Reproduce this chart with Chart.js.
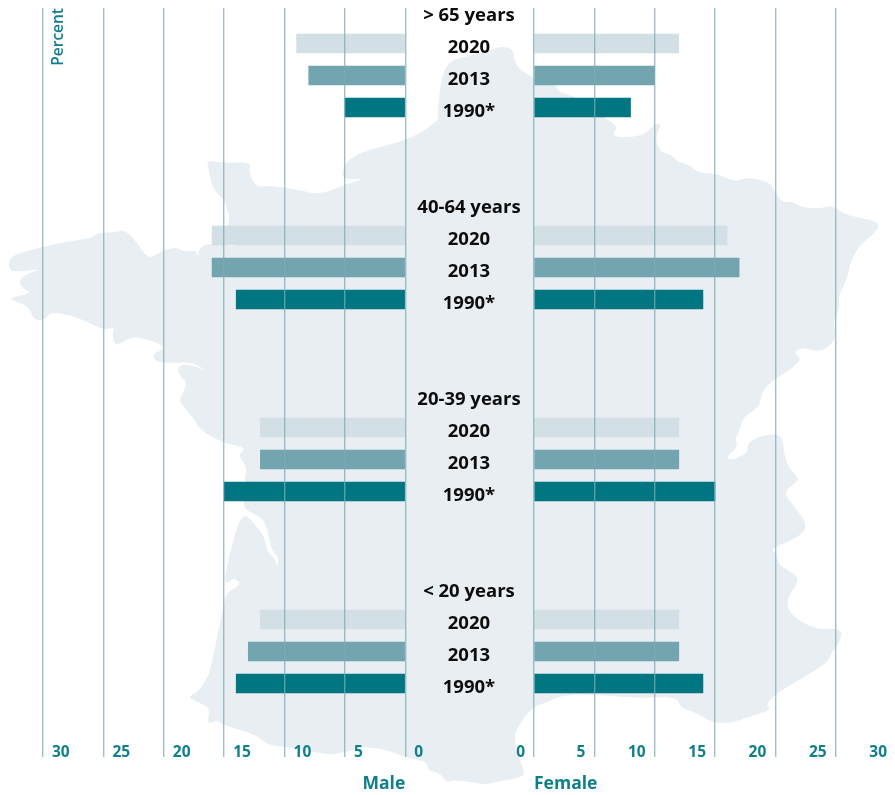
<!DOCTYPE html>
<html><head><meta charset="utf-8">
<script src="https://cdn.jsdelivr.net/npm/chart.js@4"></script>
<style>
html,body{margin:0;padding:0;background:#fff;overflow:hidden}
#wrap{position:relative;width:895px;height:795px;overflow:hidden}
canvas{position:absolute;top:0}
#left{left:0}#right{left:500px}
</style></head><body>
<div id="wrap"><canvas id="left" width="895" height="795"></canvas><canvas id="right" width="400" height="795"></canvas></div>
<script>
const ageGroups = ['> 65 years','40-64 years','20-39 years','< 20 years'];
const years = ['2020','2013','1990*'];
const tickValues = [0,5,10,15,20,25,30];
const male2020 = [9,16,12,12];
const male2013 = [8,16,12,13];
const male1990 = [5,14,15,14];
const female2020 = [12,16,12,12];
const female2013 = [10,17,12,12];
const female1990 = [8,14,15,14];
const yearColors = ['#d2dfe4','#73a5b0','#007682'];
const teal = '#0f7f8b';
const gridColor = 'rgba(125,170,180,0.75)';
const fontFamily = '"Open Sans"';
const mapOutline = [
[437,117],[443,62],[473,55],[512,43],[515,65],[525,73],[534,78],[557,85],[558,92],[578,97],[605,118],[613,123],[617,128],[612,135],[622,138],[645,135],[653,125],[662,123],[655,137],[660,152],[672,155],[678,162],[690,165],[698,173],[715,173],[735,182],[747,177],[770,182],[775,192],[783,203],[792,201],[803,208],[823,208],[832,205],[845,215],[882,222],[873,235],[858,247],[850,263],[848,277],[838,297],[840,307],[833,323],[837,338],[825,350],[813,351],[802,347],[793,353],[802,358],[793,368],[778,377],[762,390],[760,407],[743,417],[738,435],[735,438],[738,447],[728,455],[728,460],[738,458],[748,452],[747,443],[762,435],[782,434],[784,452],[788,467],[798,477],[797,482],[783,492],[793,505],[807,523],[803,533],[792,540],[770,549],[777,553],[778,565],[797,575],[798,583],[787,598],[788,613],[815,630],[840,628],[842,638],[832,652],[827,663],[803,678],[778,692],[765,705],[772,710],[748,717],[732,723],[712,723],[695,712],[680,708],[678,698],[655,697],[642,698],[627,697],[568,693],[545,703],[533,707],[520,723],[513,738],[520,760],[525,773],[520,778],[493,782],[487,785],[473,782],[453,780],[447,783],[440,773],[427,770],[428,763],[420,760],[407,758],[393,752],[377,748],[363,747],[353,750],[333,755],[313,752],[287,747],[267,745],[257,735],[223,725],[217,720],[207,725],[210,708],[200,703],[187,697],[197,693],[208,678],[213,658],[223,608],[227,592],[238,587],[240,582],[233,578],[228,583],[224,582],[230,552],[242,510],[257,527],[265,538],[267,552],[275,558],[277,567],[279,557],[271,550],[268,532],[263,518],[245,510],[243,501],[245,478],[247,467],[238,455],[245,450],[240,446],[223,443],[200,430],[193,417],[180,403],[180,398],[188,383],[177,373],[180,364],[195,366],[207,371],[192,362],[173,363],[155,362],[153,353],[163,350],[163,345],[143,338],[130,337],[115,347],[112,333],[115,327],[103,330],[90,323],[70,315],[50,312],[45,320],[33,320],[30,307],[12,300],[12,297],[33,293],[20,287],[20,277],[43,268],[20,272],[8,270],[10,257],[23,252],[43,247],[65,242],[92,238],[97,233],[115,232],[125,230],[137,242],[148,260],[163,250],[177,247],[183,252],[197,250],[198,260],[199,247],[213,243],[238,247],[228,242],[227,227],[230,217],[227,210],[225,200],[213,190],[208,167],[207,160],[223,163],[252,162],[248,172],[257,188],[267,185],[300,190],[320,195],[343,185],[367,178],[347,180],[341,175],[347,160],[367,150],[400,142],[423,132],[440,118]
];

const mapPlugin = {
  id:'franceMap',
  beforeDraw(chart){
    const c = chart.ctx, p = mapOutline, n = p.length;
    c.save();
    c.fillStyle = '#e9eef2';
    c.beginPath();
    c.moveTo((p[n-1][0]+p[0][0])/2,(p[n-1][1]+p[0][1])/2);
    for(let i=0;i<n;i++){
      const a=p[i], b=p[(i+1)%n];
      c.quadraticCurveTo(a[0],a[1],(a[0]+b[0])/2,(a[1]+b[1])/2);
    }
    c.closePath(); c.fill(); c.restore();
  }
};

const rowOf = (g,y)=>g*6+y;
function datasets(series,axis,sign){
  return series.map((values,y)=>({
    label:years[y].replace('*',''),
    data:values.map((v,g)=>({x:sign*v,y:rowOf(g,y)})),
    backgroundColor:yearColors[y],
    borderWidth:0,
    barThickness:19,
    grouped:false,
    xAxisID:axis,
    yAxisID:'y'
  }));
}
const rowLabels = new Map();
ageGroups.forEach((a,g)=>{
  rowLabels.set(rowOf(g,-1),a);
  years.forEach((y,i)=>rowLabels.set(rowOf(g,i),y));
});
const yRange = {min:-1.109375,max:22.296875,bounds:'data',offset:false};
const noPadding = s=>{s.paddingTop=0;s.paddingBottom=0;s.paddingLeft=0;s.paddingRight=0};
function xScale(sign,labelOffset,align,title){
  return {
    type:'linear',position:'bottom',min:sign<0?-30:0,max:sign<0?0:30,bounds:'data',
    afterFit:s=>{s.height=38;noPadding(s)},
    afterBuildTicks:s=>{s.ticks=tickValues.map(v=>({value:sign*v}))},
    grid:{color:gridColor,lineWidth:1.4,drawTicks:false,z:1},
    border:{display:false},
    ticks:{color:teal,font:{family:fontFamily,size:15.5,weight:'700'},mirror:true,padding:-5,labelOffset,align,autoSkip:false,maxRotation:0,callback:v=>String(Math.abs(v))},
    title:{display:true,text:title,align:sign<0?'end':'start',color:teal,font:{family:fontFamily,size:17.5,weight:'700'},padding:{top:0,bottom:0}}
  };
}
const common = {
  responsive:false,animation:false,indexAxis:'y',
  plugins:{legend:{display:false},tooltip:{enabled:false}}
};
new Chart(document.getElementById('left'),{
  type:'bar',
  data:{datasets:datasets([male2020,male2013,male1990],'xMale',-1)},
  plugins:[mapPlugin],
  options:{...common,
    layout:{padding:{top:8,right:361,left:0,bottom:0}},
    scales:{
      xMale:xScale(-1,9,'start','Male'),
      y:{type:'linear',position:'right',reverse:true,...yRange,
        afterFit:s=>{s.width=128.7;noPadding(s)},
        afterBuildTicks:s=>{s.ticks=[...rowLabels.keys()].map(v=>({value:v}))},
        grid:{display:false},border:{display:false},
        ticks:{color:'#0c0c0c',font:{family:fontFamily,size:18.5,weight:'700'},crossAlign:'center',padding:4,labelOffset:4.5,autoSkip:false,callback:v=>rowLabels.get(v)}
      },
      yPercent:{type:'linear',position:'left',min:0,max:1,
        afterFit:s=>{s.width=43;noPadding(s)},
        grid:{display:false},border:{display:false},
        ticks:{display:false},
        title:{display:true,text:'Percent',align:'end',color:teal,font:{family:fontFamily,size:15.5,weight:'600'},padding:{top:49,bottom:0}}
      }
    }
  }
});
new Chart(document.getElementById('right'),{
  type:'bar',
  data:{datasets:datasets([female2020,female2013,female1990],'xFemale',1)},
  options:{...common,
    layout:{padding:{top:8,left:34,right:4,bottom:0}},
    scales:{
      xFemale:xScale(1,-9,'end','Female'),
      y:{type:'linear',display:false,reverse:true,...yRange}
    }
  }
});
</script></body></html>
